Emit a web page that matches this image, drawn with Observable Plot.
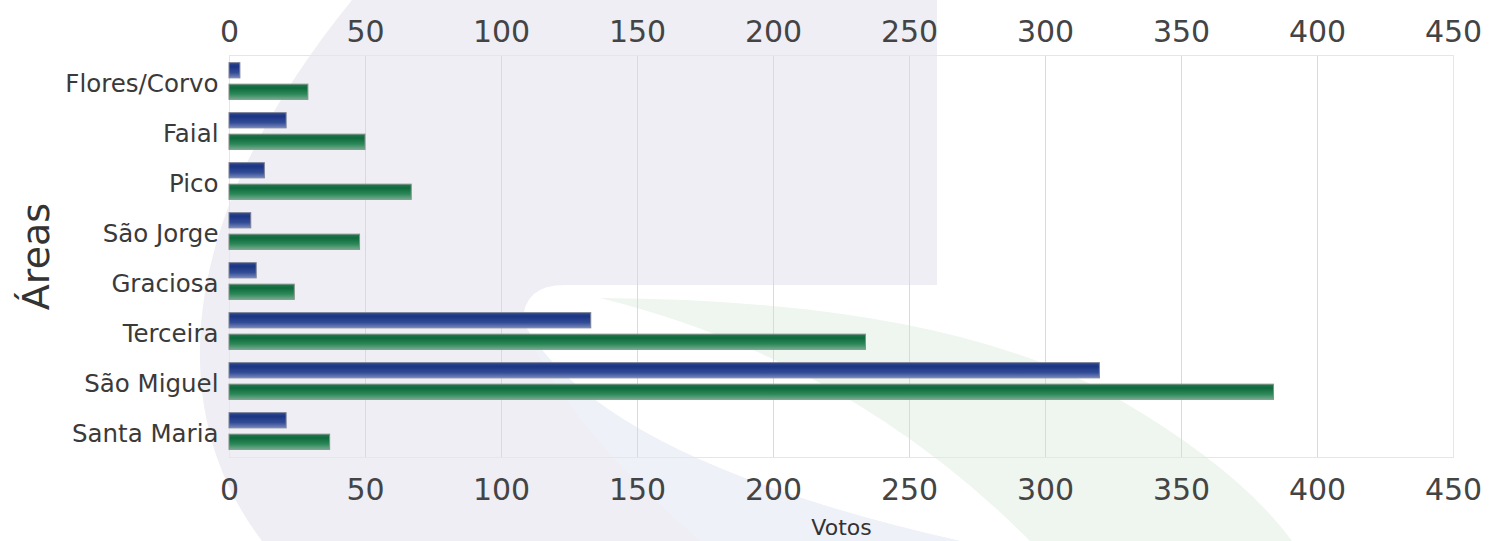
<!DOCTYPE html>
<html>
<head>
<meta charset="utf-8">
<script src="https://cdn.jsdelivr.net/npm/d3@7"></script>
<script src="https://cdn.jsdelivr.net/npm/@observablehq/plot@0.6"></script>
<style>
  html, body { margin: 0; padding: 0; background: #ffffff; }
  #wrap { position: relative; width: 1499px; height: 541px; overflow: hidden; }
  #bg { position: absolute; left: 0; top: 0; }
  #chart { position: absolute; left: 0; top: 0; }
  #chart svg { background: transparent !important; }
</style>
</head>
<body>
<div id="wrap">
  <svg id="bg" width="1499" height="541" viewBox="0 0 1499 541">
    <path d="M352,0 L937,0 L937,285 L565,285 Q523,285 523,322 Q600,460 960,541 L262,541 C170,420 165,230 352,0 Z" fill="#eeeef4"/>
    <path d="M523,322 Q600,460 960,541 L700,541 Q560,420 523,322 Z" fill="#eef1f8"/>
    <path d="M600,298 Q950,300 1120,400 Q1240,470 1292,541 L1030,541 Q850,360 600,298 Z" fill="#eff5ef"/>
  </svg>
  <div id="chart"></div>
</div>
<script>
const areas = ["Flores/Corvo", "Faial", "Pico", "São Jorge", "Graciosa", "Terceira", "São Miguel", "Santa Maria"];
const seriesBlue = [4, 21, 13, 8, 10, 133, 320, 21];
const seriesGreen = [29, 50, 67, 48, 24, 234, 384, 37];
const xTicks = [0, 50, 100, 150, 200, 250, 300, 350, 400, 450];
const yTitle = "Áreas";
const xTitle = "Votos";

const rows = areas.map((a, i) => ({area: a, blue: seriesBlue[i], green: seriesGreen[i]}));

const inset = 17.4;
const off = 10.75;

const svg = Plot.plot({
  width: 1499,
  height: 541,
  marginLeft: 229,
  marginRight: 46,
  marginTop: 55,
  marginBottom: 84,
  style: {fontFamily: "DejaVu Sans", background: "transparent", overflow: "visible"},
  x: {domain: [0, 450], ticks: xTicks},
  y: {domain: areas, padding: 0},
  marks: [
    Plot.gridX(xTicks, {stroke: "#d9d9de", strokeOpacity: 1}),
    Plot.frame({stroke: "#e6e6ea"}),
    Plot.axisX({anchor: "top", ticks: xTicks, tickSize: 0, tickPadding: 14, fontSize: 30, fill: "#444", label: null}),
    Plot.axisX({anchor: "bottom", ticks: xTicks, tickSize: 0, tickPadding: 21, fontSize: 30, fill: "#444", label: null}),
    Plot.axisY({tickSize: 0, tickPadding: 11, fontSize: 24.5, fill: "#3a3a3a", dy: 3, label: null}),
    Plot.barX(rows, {x: "blue", y: "area", fill: "url(#gradBlue)", stroke: "#7d8296", strokeWidth: 1, insetTop: inset, insetBottom: inset, dy: -off}),
    Plot.barX(rows, {x: "green", y: "area", fill: "url(#gradGreen)", stroke: "#86908a", strokeWidth: 1, insetTop: inset, insetBottom: inset, dy: off}),
    Plot.text([yTitle], {frameAnchor: "left", text: d => d, rotate: -90, dx: -181, fontSize: 38, fill: "#333", lineAnchor: "bottom", textAnchor: "middle"}),
    Plot.text([xTitle], {frameAnchor: "bottom", text: d => d, dy: 77, fontSize: 22, fill: "#333", lineAnchor: "bottom", textAnchor: "middle"})
  ]
});

const defs = d3.select(svg).insert("defs", ":first-child");
function grad(id, stops) {
  const g = defs.append("linearGradient").attr("id", id).attr("x1", 0).attr("y1", 0).attr("x2", 0).attr("y2", 1);
  stops.forEach(([o, c]) => g.append("stop").attr("offset", o).attr("stop-color", c));
}
grad("gradBlue", [["0%", "#2d4791"], ["25%", "#1c3583"], ["65%", "#334c96"], ["100%", "#7786bb"]]);
grad("gradGreen", [["0%", "#1f7c4c"], ["25%", "#0e6a3c"], ["65%", "#2c8858"], ["100%", "#72aa8c"]]);

document.getElementById("chart").appendChild(svg);
</script>
</body>
</html>
